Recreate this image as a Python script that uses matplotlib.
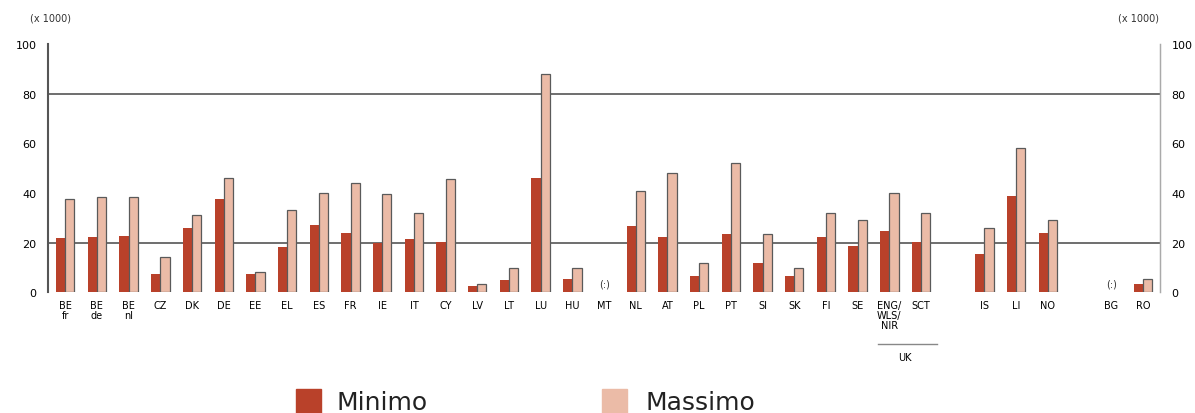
import matplotlib
matplotlib.use("Agg")
import matplotlib.pyplot as plt
import numpy as np

categories = ["BE\nfr", "BE\nde", "BE\nnl", "CZ", "DK", "DE", "EE", "EL", "ES", "FR",
              "IE", "IT", "CY", "LV", "LT", "LU", "HU", "MT", "NL", "AT", "PL", "PT",
              "SI", "SK", "FI", "SE", "ENG/\nWLS/\nNIR", "SCT", "IS", "LI", "NO", "BG", "RO"]
slots = [0, 1, 2, 3, 4, 5, 6, 7, 8, 9, 10, 11, 12, 13, 14, 15, 16, 17, 18, 19, 20, 21,
         22, 23, 24, 25, 26, 27, 29, 30, 31, 33, 34]
minimo = [22.0, 22.4, 22.7, 7.5, 25.8, 37.5, 7.5, 18.3, 26.9, 23.7,
          20.0, 21.4, 20.3, 2.3, 5.0, 46.2, 5.4, None, 26.7, 22.4, 6.5, 23.3,
          11.7, 6.3, 22.4, 18.4, 24.7, 20.3, 15.2, 38.7, 23.7, None, 3.2]
massimo = [37.5, 38.4, 38.4, 14.0, 30.9, 46.0, 8.3, 33.2, 39.8, 44.0,
           39.4, 31.9, 45.6, 3.2, 9.7, 87.8, 9.7, None, 40.7, 48.0, 11.6, 52.0,
           23.4, 9.7, 32.1, 29.0, 39.8, 32.1, 25.7, 58.0, 29.0, None, 5.2]
missing_label = "(:)"
yticks = [0, 20, 40, 60, 80, 100]

c_min = "#B9412A"
c_max = "#EBBBA7"
c_edge = "#5a5a5a"

fig = plt.figure(figsize=(11.95, 4.14), dpi=100)
ax = fig.add_axes([0.040, 0.292, 0.931, 0.599])

w = 0.29
x = np.array(slots, dtype=float)
for xi, mn, mx in zip(x, minimo, massimo):
    if mn is None:
        ax.text(xi, 1.5, missing_label, ha="center", va="bottom", fontsize=7, color="#333333")
        continue
    ax.bar(xi - w / 2, mn, width=w, color=c_min, edgecolor="none", zorder=3)
    # dark shadow edge
    ax.bar(xi + w / 2, mx, width=w, color=c_max, edgecolor=c_edge, linewidth=0.9, zorder=3)

for g in [20, 80]:
    ax.axhline(g, color="#555555", linewidth=1.2, zorder=1)

ax.set_ylim(0, 100)
ax.set_xlim(-0.55, 34.55)
ax.set_yticks(yticks)
ax.set_xticks(x)
ax.set_xticklabels(categories, fontsize=7, linespacing=1.0, va="top")
ax.tick_params(axis="x", length=0, pad=6)
ax.tick_params(axis="y", length=0, labelsize=8, pad=8)
for s in ["top", "bottom"]:
    ax.spines[s].set_visible(False)
ax.spines["left"].set_color("#555555")
ax.spines["left"].set_linewidth(1.5)
ax.spines["right"].set_color("#aaaaaa")
ax.spines["right"].set_linewidth(1.0)

ax2 = ax.twinx()
ax2.set_ylim(0, 100)
ax2.set_yticks(yticks)
ax2.tick_params(axis="y", length=0, labelsize=8, pad=8)
for s in ["top", "bottom", "left"]:
    ax2.spines[s].set_visible(False)
ax2.spines["right"].set_color("#aaaaaa")

fig.text(0.025, 0.955, "(x 1000)", fontsize=7, ha="left", va="center", color="#333333")
fig.text(0.970, 0.955, "(x 1000)", fontsize=7, ha="right", va="center", color="#333333")

# UK grouping
ax.annotate("", xy=(25.65, -0.0), xycoords=("data", "axes fraction"))
line_y = -0.21
ax.plot([25.65, 27.5], [line_y, line_y], transform=ax.get_xaxis_transform(),
        color="#888888", linewidth=1.0, clip_on=False)
ax.text(26.5, line_y - 0.03, "UK", transform=ax.get_xaxis_transform(),
        ha="center", va="top", fontsize=7)

# legend
fig.patches.append(plt.Rectangle((0.248, 0.0), 0.021, 0.058, transform=fig.transFigure,
                                 color=c_min, figure=fig))
fig.text(0.282, 0.026, "Minimo", fontsize=18, va="center", ha="left", color="#222222")
fig.patches.append(plt.Rectangle((0.504, 0.0), 0.021, 0.058, transform=fig.transFigure,
                                 color=c_max, figure=fig))
fig.text(0.540, 0.026, "Massimo", fontsize=18, va="center", ha="left", color="#222222")

fig.savefig("out.png", dpi=100)
